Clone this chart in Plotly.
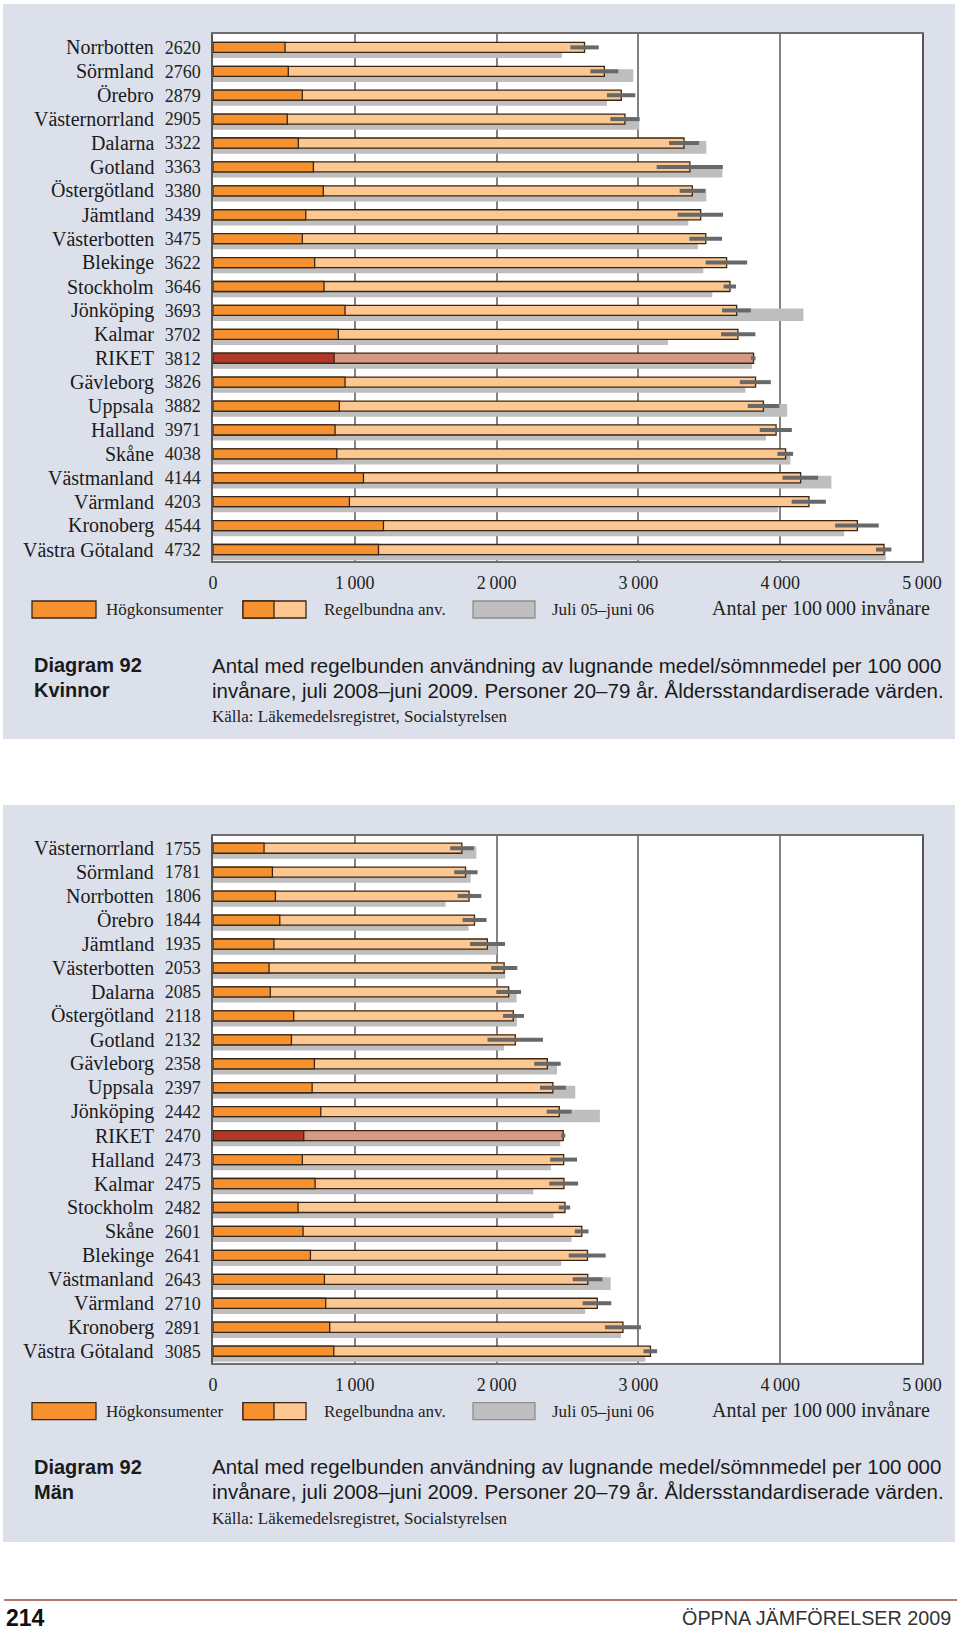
import plotly.graph_objects as go

W, H = 960, 1633

# ---------------- DATA ----------------
names_k = ["Norrbotten", "Sörmland", "Örebro", "Västernorrland", "Dalarna", "Gotland",
           "Östergötland", "Jämtland", "Västerbotten", "Blekinge", "Stockholm", "Jönköping",
           "Kalmar", "RIKET", "Gävleborg", "Uppsala", "Halland", "Skåne", "Västmanland",
           "Värmland", "Kronoberg", "Västra Götaland"]
total_k = [2620, 2760, 2879, 2905, 3322, 3363, 3380, 3439, 3475, 3622, 3646, 3693,
           3702, 3812, 3826, 3882, 3971, 4038, 4144, 4203, 4544, 4732]
high_k = [508, 531, 630, 524, 602, 708, 778, 654, 630, 717, 783, 931,
          884, 854, 931, 891, 861, 873, 1061, 962, 1202, 1167]
ci_lo_k = [2520, 2661, 2778, 2802, 3216, 3129, 3291, 3277, 3359, 3474, 3601, 3590,
           3583, 3794, 3715, 3771, 3856, 3980, 4016, 4081, 4387, 4676]
ci_hi_k = [2720, 2858, 2978, 3009, 3428, 3595, 3472, 3597, 3590, 3767, 3688, 3793,
           3825, 3826, 3934, 3994, 4082, 4091, 4267, 4322, 4695, 4784]
prev_k = [2461, 2964, 2778, 3006, 3479, 3592, 3479, 3352, 3420, 3458, 3521, 4164,
          3209, 3801, 3755, 4049, 3899, 4072, 4361, 3985, 4451, 4745]

names_m = ["Västernorrland", "Sörmland", "Norrbotten", "Örebro", "Jämtland", "Västerbotten",
           "Dalarna", "Östergötland", "Gotland", "Gävleborg", "Uppsala", "Jönköping",
           "RIKET", "Halland", "Kalmar", "Stockholm", "Skåne", "Blekinge", "Västmanland",
           "Värmland", "Kronoberg", "Västra Götaland"]
total_m = [1755, 1781, 1806, 1844, 1935, 2053, 2085, 2118, 2132, 2358, 2397, 2442,
           2470, 2473, 2475, 2482, 2601, 2641, 2643, 2710, 2891, 3085]
high_m = [360, 419, 440, 471, 430, 395, 404, 569, 553, 715, 699, 760,
          640, 630, 720, 600, 635, 687, 786, 795, 823, 852]
ci_lo_m = [1673, 1701, 1725, 1760, 1812, 1962, 1998, 2045, 1936, 2266, 2306, 2353,
           2456, 2378, 2371, 2439, 2552, 2509, 2537, 2607, 2764, 3036]
ci_hi_m = [1840, 1866, 1892, 1929, 2059, 2146, 2172, 2193, 2327, 2452, 2489, 2529,
           2484, 2567, 2575, 2519, 2648, 2769, 2746, 2809, 3018, 3132]
prev_m = [1857, 1817, 1640, 1802, 2002, 2061, 2141, 2143, 2052, 2426, 2555, 2728,
          2449, 2383, 2259, 2401, 2529, 2456, 2804, 2625, 2877, 3049]

x_tickvals = [0, 1000, 2000, 3000, 4000, 5000]
x_ticktext = ["0", "1\u2009000", "2\u2009000", "3\u2009000", "4\u2009000", "5\u2009000"]

legend_labels = ["Högkonsumenter", "Regelbundna anv.", "Juli 05\u2013juni 06"]
unit_label = "Antal per 100\u2009000 invånare"
caption_1 = "Antal med regelbunden användning av lugnande medel/sömnmedel per 100 000"
caption_2 = "invånare, juli 2008\u2013juni 2009. Personer 20\u201379 år. Åldersstandardiserade värden."
source = "Källa: Läkemedelsregistret, Socialstyrelsen"
titles = [("Diagram 92", "Kvinnor"), ("Diagram 92", "Män")]

# ---------------- STYLE ----------------
SERIF = "Liberation Serif, Times New Roman, serif"
SANS = "Liberation Sans, Arial, sans-serif"
C_DARK = "#F5922F"
C_LIGHT = "#FDC792"
C_RIKET_DARK = "#B2372B"
C_RIKET_LIGHT = "#D99883"
C_GRAY = "#BEBEBE"
C_ERR = "#686868"
C_EDGE = "#3A2616"
C_PANEL = "#DCE0EB"


def px(x):
    return x / W


def py(y):
    return 1 - y / H


fig = go.Figure()

charts = [
    dict(names=names_k, total=total_k, high=high_k, lo=ci_lo_k, hi=ci_hi_k, prev=prev_k,
         xa="x", ya="y", top=34, bottom=561, rng=[21.48, -0.56], panel=(4, 739)),
    dict(names=names_m, total=total_m, high=high_m, lo=ci_lo_m, hi=ci_hi_m, prev=prev_m,
         xa="x2", ya="y2", top=836, bottom=1362.7, rng=[21.48, -0.51], panel=(805, 1542)),
]

shapes = []
annotations = []

for ci, ch in enumerate(charts):
    n = len(ch["names"])
    pos = list(range(n))
    is_riket = [nm == "RIKET" for nm in ch["names"]]
    dark_cols = [C_RIKET_DARK if r else C_DARK for r in is_riket]
    light_cols = [C_RIKET_LIGHT if r else C_LIGHT for r in is_riket]
    err_plus = [h - t for h, t in zip(ch["hi"], ch["total"])]
    err_minus = [t - l for t, l in zip(ch["total"], ch["lo"])]

    fig.add_trace(go.Bar(
        x=ch["prev"], y=pos, orientation="h", xaxis=ch["xa"], yaxis=ch["ya"],
        marker=dict(color=C_GRAY, line=dict(width=0)),
        width=0.53, offset=-0.085, showlegend=False, hoverinfo="skip"))
    fig.add_trace(go.Bar(
        x=ch["total"], y=pos, orientation="h", xaxis=ch["xa"], yaxis=ch["ya"],
        marker=dict(color=light_cols, line=dict(color=C_EDGE, width=1.3)),
        width=0.42, offset=-0.21, showlegend=False, hoverinfo="skip",
        error_x=dict(type="data", symmetric=False, array=err_plus, arrayminus=err_minus,
                     color=C_ERR, thickness=4, width=0)))
    fig.add_trace(go.Bar(
        x=ch["high"], y=pos, orientation="h", xaxis=ch["xa"], yaxis=ch["ya"],
        marker=dict(color=dark_cols, line=dict(color=C_EDGE, width=1.3)),
        width=0.42, offset=-0.21, showlegend=False, hoverinfo="skip"))

    # region names
    for i, nm in enumerate(ch["names"]):
        annotations.append(dict(x=px(156), y=i, xref="paper", yref=ch["ya"], text=nm,
                                showarrow=False, xanchor="right", yanchor="middle",
                                font=dict(family=SERIF, size=20, color="#1a1a1a")))

    # panel background + white plot area
    ptop, pbot = ch["panel"]
    shapes.append(dict(type="rect", xref="paper", yref="paper", x0=px(3), x1=px(955),
                       y0=py(pbot), y1=py(ptop), fillcolor=C_PANEL, line=dict(width=0),
                       layer="below"))
    shapes.append(dict(type="rect", xref="paper", yref="paper", x0=px(213), x1=px(922),
                       y0=py(ch["bottom"]), y1=py(ch["top"]), fillcolor="white",
                       line=dict(width=0), layer="below"))

    # legend
    ly0 = ch["bottom"] + 40
    ly1 = ch["bottom"] + 57
    lyc = (ly0 + ly1) / 2
    shapes.append(dict(type="rect", xref="paper", yref="paper", x0=px(32), x1=px(96),
                       y0=py(ly1), y1=py(ly0), fillcolor=C_DARK,
                       line=dict(color=C_EDGE, width=1.3)))
    shapes.append(dict(type="rect", xref="paper", yref="paper", x0=px(243), x1=px(306),
                       y0=py(ly1), y1=py(ly0), fillcolor=C_LIGHT,
                       line=dict(color=C_EDGE, width=1.3)))
    shapes.append(dict(type="rect", xref="paper", yref="paper", x0=px(243), x1=px(274),
                       y0=py(ly1), y1=py(ly0), fillcolor=C_DARK,
                       line=dict(color=C_EDGE, width=1.3)))
    shapes.append(dict(type="rect", xref="paper", yref="paper", x0=px(473), x1=px(535),
                       y0=py(ly1), y1=py(ly0), fillcolor=C_GRAY,
                       line=dict(color="#8f8f8f", width=1.3)))
    for lx, lt in zip([104, 322, 550], legend_labels):
        annotations.append(dict(x=px(lx), y=py(lyc), xref="paper", yref="paper", text=lt,
                                showarrow=False, xanchor="left", yanchor="middle",
                                font=dict(family=SERIF, size=17, color="#222")))
    annotations.append(dict(x=px(932), y=py(lyc - 1), xref="paper", yref="paper",
                            text=unit_label, showarrow=False, xanchor="right",
                            yanchor="middle", font=dict(family=SERIF, size=20, color="#222")))

    # caption
    c1 = ch["bottom"] + 104
    c2 = ch["bottom"] + 129
    c3 = ch["bottom"] + 156
    t1, t2 = titles[ci]
    annotations.append(dict(x=px(32), y=py(c1), xref="paper", yref="paper",
                            text="<b>" + t1 + "</b>",
                            showarrow=False, xanchor="left", yanchor="middle",
                            font=dict(family=SANS, size=20, color="#1a1a1a")))
    annotations.append(dict(x=px(32), y=py(c2), xref="paper", yref="paper",
                            text="<b>" + t2 + "</b>",
                            showarrow=False, xanchor="left", yanchor="middle",
                            font=dict(family=SANS, size=20, color="#1a1a1a")))
    annotations.append(dict(x=px(210), y=py(c1), xref="paper", yref="paper", text=caption_1,
                            showarrow=False, xanchor="left", yanchor="middle",
                            font=dict(family=SANS, size=20.5, color="#1a1a1a")))
    annotations.append(dict(x=px(210), y=py(c2), xref="paper", yref="paper", text=caption_2,
                            showarrow=False, xanchor="left", yanchor="middle",
                            font=dict(family=SANS, size=20.5, color="#1a1a1a")))
    annotations.append(dict(x=px(210), y=py(c3), xref="paper", yref="paper", text=source,
                            showarrow=False, xanchor="left", yanchor="middle",
                            font=dict(family=SERIF, size=17, color="#222")))

# footer
shapes.append(dict(type="line", xref="paper", yref="paper", x0=px(4), x1=px(957),
                   y0=py(1600), y1=py(1600), line=dict(color="#B07A72", width=2)))
annotations.append(dict(x=px(4), y=py(1618), xref="paper", yref="paper", text="<b>214</b>",
                        showarrow=False, xanchor="left", yanchor="middle",
                        font=dict(family=SANS, size=23, color="#111")))
annotations.append(dict(x=px(953), y=py(1618), xref="paper", yref="paper",
                        text="ÖPPNA JÄMFÖRELSER 2009", showarrow=False, xanchor="right",
                        yanchor="middle", font=dict(family=SANS, size=19.8, color="#333")))

axis_common_x = dict(range=[0, 5000], tickvals=x_tickvals, ticktext=x_ticktext,
                     showgrid=True, gridcolor="#838383", gridwidth=1.5, zeroline=False,
                     showline=True, mirror=True, linecolor="#6e6e6e", linewidth=1.5,
                     ticks="", tickfont=dict(family=SERIF, size=18, color="#222"),
                     ticklabelstandoff=5, fixedrange=True, automargin=False)
axis_common_y = dict(showgrid=False, zeroline=False, showline=True, mirror=True,
                     linecolor="#555", linewidth=1.5, ticks="",
                     tickfont=dict(family=SERIF, size=18, color="#222"),
                     ticklabelstandoff=7, fixedrange=True, automargin=False)

fig.update_layout(
    width=W, height=H, autosize=False,
    margin=dict(l=0, r=0, t=0, b=0, pad=0, autoexpand=False),
    paper_bgcolor="white", plot_bgcolor="white",
    barmode="overlay", showlegend=False,
    xaxis=dict(domain=[px(213), px(922)], anchor="y", **axis_common_x),
    yaxis=dict(domain=[py(charts[0]["bottom"]), py(charts[0]["top"])], anchor="x",
               range=charts[0]["rng"], tickvals=list(range(len(names_k))),
               ticktext=[str(v) for v in total_k], **axis_common_y),
    xaxis2=dict(domain=[px(213), px(922)], anchor="y2", **axis_common_x),
    yaxis2=dict(domain=[py(charts[1]["bottom"]), py(charts[1]["top"])], anchor="x2",
                range=charts[1]["rng"], tickvals=list(range(len(names_m))),
                ticktext=[str(v) for v in total_m], **axis_common_y),
    shapes=shapes, annotations=annotations,
)

fig.write_html(
    "out.html",
    config={"responsive": False, "displayModeBar": False},
    post_script="document.body.style.margin='0px';document.body.style.overflow='hidden';",
)
